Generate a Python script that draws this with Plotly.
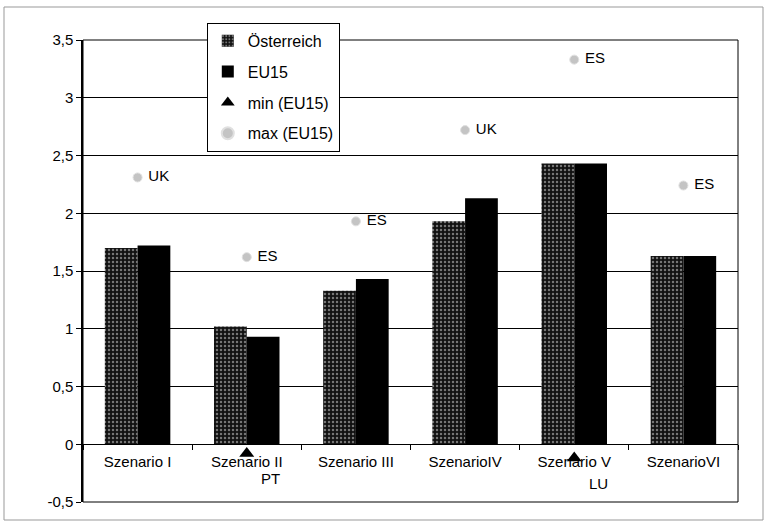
import plotly.graph_objects as go

categories = ["Szenario I", "Szenario II", "Szenario III", "SzenarioIV", "Szenario V", "SzenarioVI"]
oesterreich = [1.70, 1.02, 1.33, 1.93, 2.43, 1.63]
eu15 = [1.72, 0.93, 1.43, 2.13, 2.43, 1.63]
min_eu15 = [None, -0.08, None, None, -0.12, None]
min_labels = ["", "PT", "", "", "LU", ""]
max_eu15 = [2.31, 1.62, 1.93, 2.72, 3.33, 2.24]
max_labels = ["UK", "ES", "ES", "UK", "ES", "ES"]
y_ticks = [-0.5, 0, 0.5, 1, 1.5, 2, 2.5, 3, 3.5]
y_ticktext = ["-0,5", "0", "0,5", "1", "1,5", "2", "2,5", "3", "3,5"]

FONT = "Liberation Sans, Arial, sans-serif"

fig = go.Figure()
fig.add_trace(go.Bar(
    x=categories, y=oesterreich, name="Österreich", legendgroup="a",
    marker=dict(color="#111111", line=dict(width=0),
                pattern=dict(shape=".", fgcolor="#d8d8d8", bgcolor="#111111", size=4, solidity=0.3)),
))
fig.add_trace(go.Bar(
    x=categories, y=eu15, name="EU15", legendgroup="b",
    marker=dict(color="#000000", line=dict(width=0)),
))
fig.add_trace(go.Scatter(
    x=categories, y=min_eu15, name="min (EU15)", legendgroup="c",
    mode="markers",
    marker=dict(symbol="triangle-up", size=13, color="black"),
    cliponaxis=False,
))
fig.add_trace(go.Scatter(
    x=categories, y=max_eu15, name="max (EU15)", legendgroup="d",
    mode="markers+text", text=[" " + t for t in max_labels], textposition="middle right",
    textfont=dict(family=FONT, size=15, color="black"),
    marker=dict(symbol="circle", size=9, color="#c4c4c4",
                line=dict(width=1, color="#e0e0e0")),
))

annotations = []
for c, v, t in zip(categories, min_eu15, min_labels):
    if v is not None and t:
        annotations.append(dict(x=c, y=v, xref="x", yref="y", text=t, showarrow=False,
                                xshift=24, yshift=-25,
                                font=dict(family=FONT, size=15, color="black")))

fig.update_layout(
    width=767, height=527,
    margin=dict(l=83, r=29, t=40, b=25),
    paper_bgcolor="white", plot_bgcolor="white",
    font=dict(family=FONT, size=15, color="black"),
    barmode="group", bargap=0.4, bargroupgap=0,
    showlegend=True,
    legend=dict(
        x=0.189, y=1.037, xanchor="left", yanchor="top",
        bgcolor="white", bordercolor="black", borderwidth=1,
        font=dict(family=FONT, size=16, color="black"),
        tracegroupgap=7, itemsizing="constant",
    ),
    annotations=annotations,
    xaxis=dict(
        type="category", anchor="free", position=0.125,
        showline=True, linecolor="black", linewidth=1,
        ticks="outside", tickson="boundaries", ticklen=5, tickcolor="black",
        ticklabelstandoff=4,
        showgrid=False, tickfont=dict(family=FONT, size=15),
    ),
    yaxis=dict(
        range=[-0.5, 3.5], tickvals=y_ticks, ticktext=y_ticktext,
        showline=True, linecolor="black", linewidth=1.5,
        ticks="outside", ticklen=5, tickcolor="black",
        showgrid=True, gridcolor="black", gridwidth=1,
        zeroline=False, tickfont=dict(family=FONT, size=15),
    ),
    shapes=[
        dict(type="rect", xref="paper", yref="paper", x0=0, x1=1, y0=0, y1=1,
             line=dict(color="black", width=1), layer="above"),
        dict(type="rect", xref="paper", yref="paper",
             x0=-79 / 655, x1=(763 - 83) / 655, y0=(502 - 520) / 462, y1=(502 - 7) / 462,
             line=dict(color="#999999", width=1)),
    ],
)

fig.write_html("out.html")
